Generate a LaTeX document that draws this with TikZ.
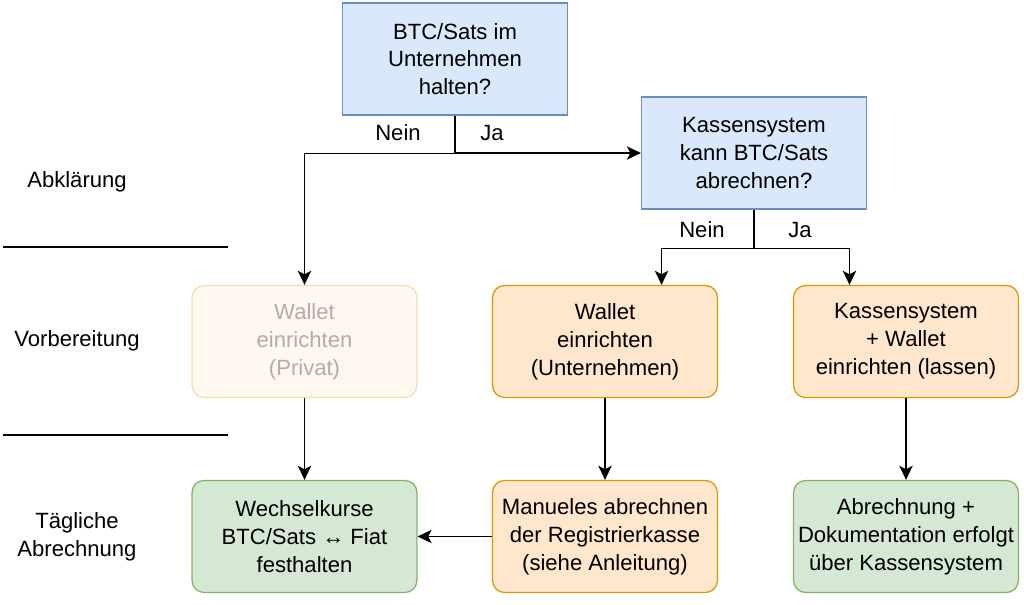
\documentclass[tikz,border=0pt]{standalone}
\usepackage{fontspec}
\setmainfont{Liberation Sans}
\usetikzlibrary{arrows.meta,calc}

\definecolor{blueFill}{HTML}{DAE8FC}
\definecolor{blueLine}{HTML}{6C8EBF}
\definecolor{orangeFill}{HTML}{FFE6CC}
\definecolor{orangeLine}{HTML}{D79B00}
\definecolor{greenFill}{HTML}{D5E8D4}
\definecolor{greenLine}{HTML}{82B366}

\begin{document}
\begin{tikzpicture}[x=0.025cm,y=-0.025cm,
    every node/.style={font=\fontsize{15.7}{19.8}\selectfont},
    box/.style={rectangle,draw,line width=0.9pt,align=center,inner sep=0pt,
      minimum width=5.62cm,minimum height=2.8cm},
    question/.style={box,fill=blueFill,draw=blueLine},
    prep/.style={box,rounded corners=0.3cm,fill=orangeFill,draw=orangeLine},
    daily/.style={box,rounded corners=0.3cm,fill=greenFill,draw=greenLine},
    faded/.style={opacity=0.3},
    arr/.style={-{Stealth[length=10pt,width=9.5pt,inset=2.5pt]},line width=1.05pt}]
\useasboundingbox (0,0) rectangle (1024,604);

% phases
\node (abkl) at (77,182) {Abklärung};
\node (vorb) at (77,341) {Vorbereitung};
\node[align=center] (taegl) at (77,537) {Tägliche\\Abrechnung};
\draw[line width=1pt] (3,247) -- (228,247);
\draw[line width=1pt] (3,435) -- (228,435);

% questions
\node[question] (halten) at (455,59) {BTC/Sats im\\Unternehmen\\halten?};
\node[question] (kasse) at (754,153) {Kassensystem\\kann BTC/Sats\\abrechnen?};

% preparation
\node[prep,faded] (walletP) at (304.5,341.5) {Wallet\\einrichten\\(Privat)};
\node[prep] (walletU) at (605,341.5) {Wallet\\einrichten\\(Unternehmen)};
\node[prep] (kasseW) at (906,341.5) {Kassensystem\\+ Wallet\\einrichten (lassen)};

% daily
\node[daily] (kurse) at (304.5,536.5) {Wechselkurse\\BTC/Sats ↔ Fiat\\festhalten};
\node[prep] (manuell) at (605,536.5) {Manueles abrechnen\\der Registrierkasse\\(siehe Anleitung)};
\node[daily] (doku) at (906,536.5) {Abrechnung +\\Dokumentation erfolgt\\über Kassensystem};

% decisions
\draw[arr] (halten.south) -- ++(0,38) -| (walletP.north);
\draw[arr] (halten.south) |- (kasse.west);
\node (nein1) at (398,133) {Nein};
\node (ja1) at (492,133) {Ja};

\draw[arr] (kasse.south) -- ++(0,39) -| ($(walletU.north)!0.5!(walletU.north east)$);
\draw[arr] (kasse.south) -- ++(0,39) -| ($(kasseW.north)!0.5!(kasseW.north west)$);
\node (nein2) at (702,230) {Nein};
\node (ja2) at (800,230) {Ja};

% steps
\draw[arr] (walletP) -- (kurse);
\draw[arr] (walletU) -- (manuell);
\draw[arr] (kasseW) -- (doku);
\draw[arr] (manuell) -- (kurse);
\end{tikzpicture}
\end{document}
